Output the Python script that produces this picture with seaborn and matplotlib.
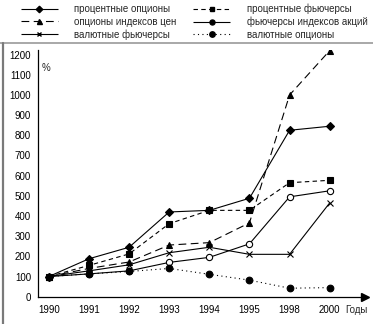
import numpy as np
import pandas as pd
import matplotlib
matplotlib.use("Agg")
import matplotlib.pyplot as plt
from matplotlib.lines import Line2D
import seaborn as sns

years = ["1990", "1991", "1992", "1993", "1994", "1995", "1998", "2000"]

interest_options = [100, 188, 245, 420, 428, 488, 825, 845]
interest_futures = [100, 155, 212, 362, 428, 428, 565, 577]
price_index_options = [100, 140, 172, 256, 268, 366, 1000, 1220]
stock_index_futures = [100, 113, 128, 170, 195, 262, 495, 525]
currency_futures = [100, 128, 158, 218, 245, 210, 210, 465]
currency_options = [100, 113, 125, 140, 111, 82, 42, 45]

labels = [
    "процентные опционы",
    "процентные фьючерсы",
    "опционы индексов цен",
    "фьючерсы индексов акций",
    "валютные фьючерсы",
    "валютные опционы",
]
series = [interest_options, interest_futures, price_index_options,
          stock_index_futures, currency_futures, currency_options]

# line style, marker, marker size, marker face
styles = [
    ((0, ()), "D", 4.2, "black"),
    ((0, (4, 3)), "s", 4.2, "black"),
    ((0, (7, 4)), "^", 4.5, "black"),
    ((0, ()), "o", 4.5, "white"),
    ((0, ()), "x", 4.0, "black"),
    ((0, (1, 3)), "o", 4.8, "black"),
]

sns.set_theme(style="white")
plt.rcParams["font.family"] = ["Liberation Sans", "DejaVu Sans"]

fig = plt.figure(figsize=(3.73, 3.24), dpi=100)
ax = fig.add_axes([0.1019, 0.0843, 0.8767, 0.7614])

pos = np.arange(len(years))
for lab, vals, (ls, mk, ms, fc) in zip(labels, series, styles):
    df = pd.DataFrame({"pos": pos, "val": vals})
    sns.lineplot(data=df, x="pos", y="val", ax=ax, color="black",
                 linewidth=0.8, linestyle=ls, marker=mk, markersize=ms,
                 markerfacecolor=fc, markeredgecolor="black",
                 markeredgewidth=0.8, label=lab, legend=False, zorder=3)

ax.set_xlim(-0.27, 7.88)
ax.set_ylim(0, 1223)
ax.set_xticks(pos)
ax.set_xticklabels(years)
ax.set_yticks(np.arange(0, 1201, 100))
ax.set_xlabel("")
ax.set_ylabel("")
ax.tick_params(axis="both", labelsize=7, colors="black", length=2,
               width=0.8, direction="out", pad=3)
ax.tick_params(axis="x", pad=4)
for side in ("top", "right"):
    ax.spines[side].set_visible(False)
for side in ("left", "bottom"):
    ax.spines[side].set_color("black")
    ax.spines[side].set_linewidth(0.9)
ax.grid(False)

# arrow head at the end of the horizontal axis
ax.plot([1.0], [0.0], marker=">", markersize=6, color="black",
        transform=ax.transAxes, clip_on=False)

ax.text(0.0125, 0.925, "%", transform=ax.transAxes, fontsize=7,
        ha="left", va="center")
# axis caption on the same line as the year labels
ax.annotate("Годы", xy=(7.38, 0), xycoords=("data", "axes fraction"),
            xytext=(0, -6), textcoords="offset points",
            fontsize=7, ha="left", va="top")

# legend in two columns above the plot
handles = []
for lab, (ls, mk, ms, fc) in zip(labels, styles):
    handles.append(Line2D([], [], color="black", linewidth=0.8, linestyle=ls,
                          marker=mk, markersize=ms - 0.9,
                          markerfacecolor="black", markeredgecolor="black",
                          label=lab))
order = [0, 2, 4, 1, 3, 5]
leg = fig.legend([handles[i] for i in order], [labels[i] for i in order],
                 ncol=2, loc="upper left", bbox_to_anchor=(0.045, 1.0),
                 frameon=False, fontsize=7, handlelength=3.8,
                 handletextpad=1.7, columnspacing=1.7, labelspacing=0.25,
                 borderaxespad=0.0)

# page border lines
fig.add_artist(Line2D([0.0, 1.0], [0.867, 0.867], transform=fig.transFigure,
                      color="#9a9a9a", linewidth=1.2))
fig.add_artist(Line2D([0.009, 0.009], [0.0, 0.867], transform=fig.transFigure,
                      color="#7a7a7a", linewidth=1.6))

fig.savefig("out.png", dpi=100)
